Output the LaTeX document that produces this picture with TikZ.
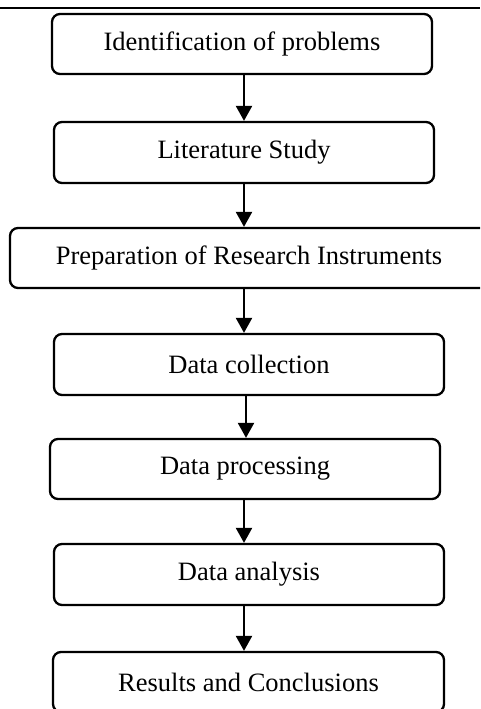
\documentclass[tikz,border=0pt]{standalone}
\usepackage{fontspec}
\setmainfont{Liberation Serif}
\usetikzlibrary{arrows.meta}
\begin{document}
\begin{tikzpicture}[x=1pt,y=-1pt,
  stepbox/.style={draw=black, line width=2.3pt, rounded corners=8pt, inner sep=0pt,
    font=\fontsize{26.5}{30}\selectfont, text=black},
  flow/.style={draw=black, line width=2.3pt, -{Triangle[width=16pt,length=15pt]}}]
\useasboundingbox (0,0) rectangle (480,709);
\clip (0,0) rectangle (480,709);
\draw[line width=2.5pt] (0,8) -- (480,8);
\node[stepbox, minimum width=380pt, minimum height=60pt] (s1) at (242,44) {Identification of problems};
\node[stepbox, minimum width=380pt, minimum height=61pt] (s2) at (244,152.5) {Literature Study};
\node[stepbox, minimum width=478pt, minimum height=60pt] (s3) at (249,258) {Preparation of Research Instruments};
\node[stepbox, minimum width=390pt, minimum height=61pt] (s4) at (249,364.5) {Data collection};
\node[stepbox, minimum width=390pt, minimum height=60pt] (s5) at (245,469) {Data processing};
\node[stepbox, minimum width=390pt, minimum height=61pt] (s6) at (249,574.5) {Data analysis};
\node[stepbox, minimum width=391pt, minimum height=60pt] (s7) at (248.5,682) {Results and Conclusions};
\coordinate (ax) at (244,0);
\coordinate (bx) at (246,0);
\draw[flow] (s1.south -| ax) -- (s2.north -| ax);
\draw[flow] (s2.south -| ax) -- (s3.north -| ax);
\draw[flow] (s3.south -| ax) -- (s4.north -| ax);
\draw[flow] (s4.south -| bx) -- (s5.north -| bx);
\draw[flow] (s5.south -| ax) -- (s6.north -| ax);
\draw[flow] (s6.south -| ax) -- (s7.north -| ax);
\end{tikzpicture}
\end{document}
